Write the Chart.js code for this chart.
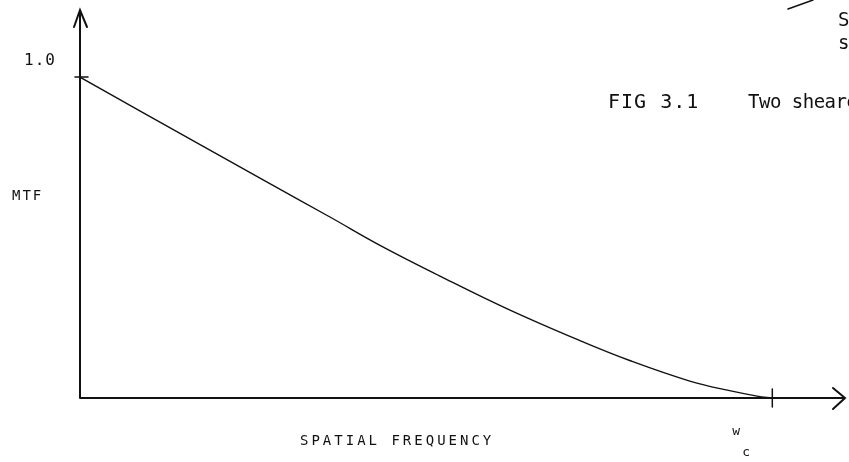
<!DOCTYPE html>
<html>
<head>
<meta charset="utf-8">
<script src="https://cdn.jsdelivr.net/npm/chart.js@4.4.1/dist/chart.umd.min.js"></script>
<style>
  html, body { margin: 0; padding: 0; background: #fff; }
  #wrap { width: 849px; height: 462px; position: relative; }
</style>
</head>
<body>
<div id="wrap"><canvas id="mtf_chart" width="849" height="462"></canvas></div>
<script>
// normalised spatial frequency (w / w_c) and MTF
var freq = [0, 0.087, 0.260, 0.361, 0.434, 0.520, 0.618, 0.723, 0.795, 0.882, 0.940, 0.978, 1.0];
var mtf  = [1.0, 0.894, 0.685, 0.564, 0.475, 0.380, 0.277, 0.178, 0.116, 0.052, 0.022, 0.006, 0];

var yTicks = [1.0];       // labelled "1.0"
var xTicks = [1.0];       // labelled w_c

var points = freq.map(function(f, i) { return {x: f, y: mtf[i]}; });

var ink = '#111';
var mono = '"DejaVu Sans Mono", "Liberation Mono", monospace';

function label(c, text, x, y, size, spacing) {
  c.font = size + 'px ' + mono;
  c.letterSpacing = (spacing || 0) + 'px';
  c.fillText(text, x, y);
}

// draws the plotter-style axes, arrows, ticks and captions
var plotterAxes = {
  id: 'plotterAxes',
  afterDraw: function(chart) {
    var c = chart.ctx, a = chart.chartArea;
    var xs = chart.scales.x, ys = chart.scales.y;
    var x0 = xs.getPixelForValue(0), y0 = ys.getPixelForValue(0);
    c.save();
    c.strokeStyle = ink;
    c.lineWidth = 2;
    c.lineCap = 'round';
    c.beginPath();
    // y axis + arrow
    c.moveTo(x0, y0); c.lineTo(x0, a.top);
    c.moveTo(x0 - 6, a.top + 17); c.lineTo(x0, a.top); c.lineTo(x0 + 7, a.top + 17);
    // x axis + arrow
    c.moveTo(x0, y0); c.lineTo(a.right, y0);
    c.moveTo(a.right - 12, y0 - 10); c.lineTo(a.right, y0); c.lineTo(a.right - 12, y0 + 11);
    c.stroke();

    c.beginPath();
    yTicks.forEach(function(v) {
      var py = ys.getPixelForValue(v);
      c.moveTo(x0 - 5, py); c.lineTo(x0 + 8, py);
    });
    xTicks.forEach(function(v) {
      var px = xs.getPixelForValue(v);
      c.moveTo(px, y0 - 9); c.lineTo(px, y0 + 9);
    });
    // stray stroke top right
    c.lineWidth = 1.5;
    c.moveTo(788, 9); c.lineTo(813, 0);
    c.stroke();

    c.fillStyle = ink;
    c.textBaseline = 'middle';
    label(c, '1.0', 24, ys.getPixelForValue(1.0) - 16, 16, 1);
    label(c, 'MTF', 12, 196, 14, 2);
    label(c, 'SPATIAL FREQUENCY', 300, 441, 14, 3);
    label(c, 'w', xs.getPixelForValue(1.0) - 40, 432, 13, 0);
    label(c, 'c', xs.getPixelForValue(1.0) - 30, 453, 13, 0);
    label(c, 'FIG 3.1', 608, 103, 20, 1);
    label(c, 'Two sheared', 748, 103, 19, -0.5);
    label(c, 'S', 838, 21, 19, 0);
    label(c, 's', 838, 44, 19, 0);
    c.restore();
  }
};

var lineData = {
  datasets: [{
    label: 'MTF',
    data: points,
    borderColor: ink,
    borderWidth: 1.4,
    pointRadius: 0,
    fill: false,
    tension: 0.4
  }]
};

var lineOptions = {
  responsive: false,
  animation: false,
  layout: { padding: { left: 80, right: 4, top: 10, bottom: 64 } },
  plugins: { legend: { display: false }, tooltip: { enabled: false } },
  scales: {
    x: { type: 'linear', min: 0, max: 1.105, display: false },
    y: { type: 'linear', min: 0, max: 1.209, display: false }
  }
};

var ctx1 = document.getElementById('mtf_chart');
new Chart(ctx1, {type: 'line', data: lineData, options: lineOptions, plugins: [plotterAxes]});
</script>
</body>
</html>
